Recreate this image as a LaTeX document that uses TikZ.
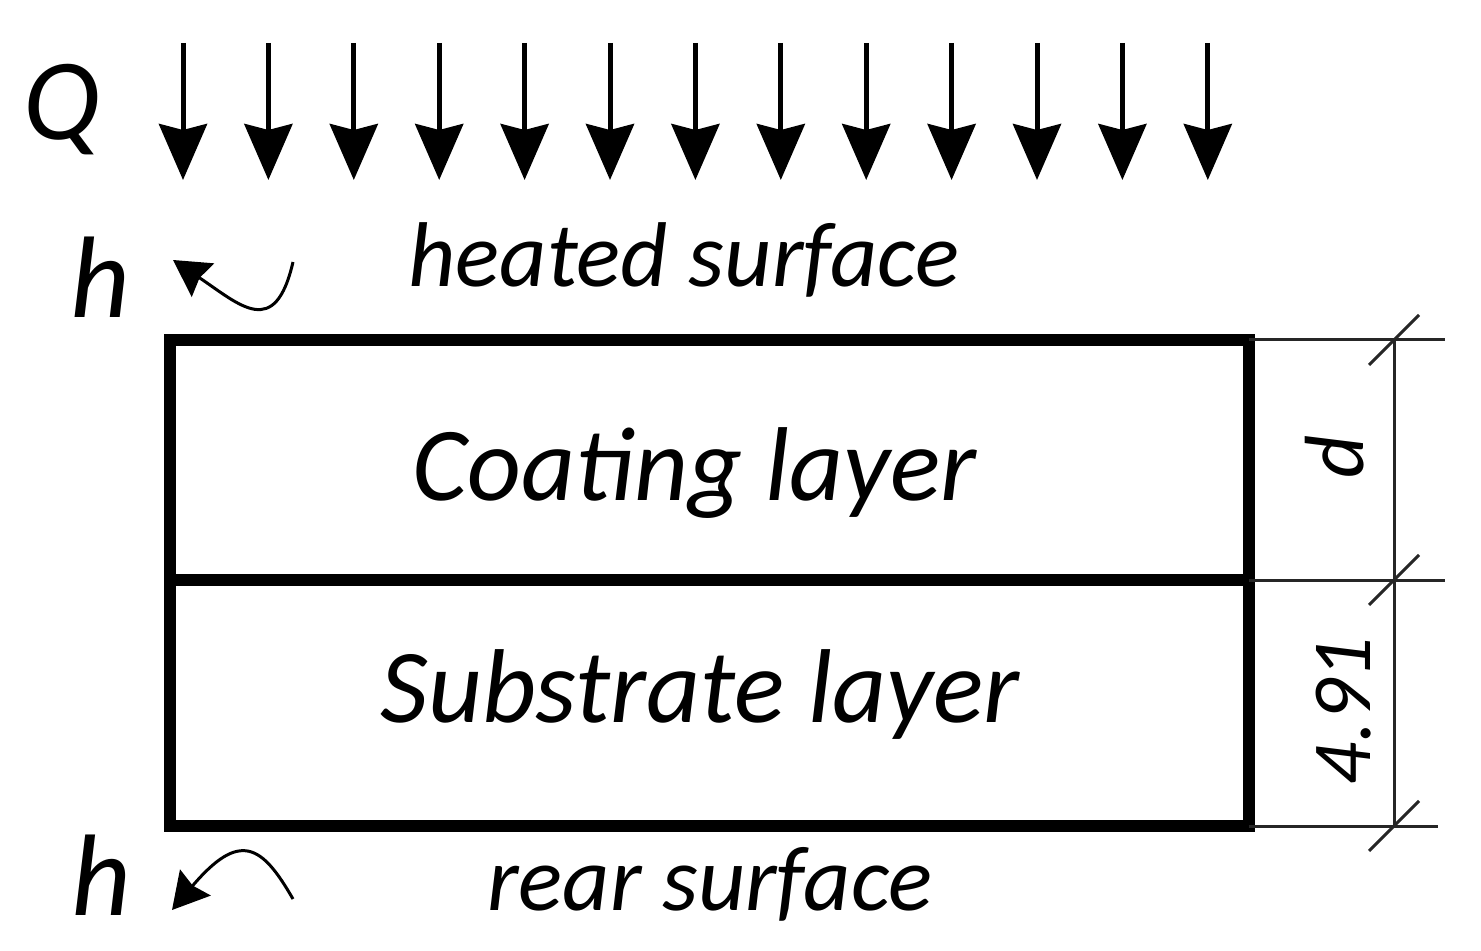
\documentclass[tikz,border=0pt]{standalone}
\usepackage{fontspec}
\setmainfont{Carlito}
\usetikzlibrary{arrows.meta}

\begin{document}
\begin{tikzpicture}[x=0.5pt,y=-0.5pt,
        layer/.style={draw=black,line width=6pt,minimum width=539.5pt,inner sep=0pt,outer sep=0pt},
        bigtext/.style={font=\itshape\fontsize{52.5}{60}\selectfont,inner sep=0pt,anchor=base},
        smalltext/.style={font=\itshape\fontsize{46}{54}\selectfont,inner sep=0pt,anchor=base},
        dimtext/.style={font=\itshape\fontsize{42}{50}\selectfont,inner sep=0pt,anchor=base,rotate=90},
        symtext/.style={font=\itshape\fontsize{58}{68}\selectfont,inner sep=0pt,anchor=base},
        qarrow/.style={line width=2.5pt,-{Stealth[length=28pt,width=24pt,inset=3pt]}},
        harrow/.style={line width=1.5pt,-{Stealth[length=18pt,width=20pt,inset=2pt]}},
        dimline/.style={line width=1.5pt,black!85}]
        \useasboundingbox (0,0) rectangle (1481,951);
        \node[symtext] (Q) at (62,140) {Q};
        \foreach \i in {0,...,12} {
            \coordinate (qs\i) at (183+85.4*\i,43);
            \coordinate (qe\i) at (183+85.4*\i,180);
            \draw[qarrow] (qs\i) -- (qe\i);
        }
        \node[symtext] (htop) at (100,318) {h};
        \node[smalltext] (heated) at (684,287) {heated surface};
        \coordinate (hts) at (293,262);
        \coordinate (hte) at (173,260);
        \draw[harrow] (hts) .. controls (275,340) and (240,305) .. (hte);
        \node[layer,minimum height=120pt] (coat) at (709.5,460) {};
        \node[layer,minimum height=123pt] (sub) at (709.5,703) {};
        \node[bigtext] (coattext) at (695,500) {Coating layer};
        \node[bigtext] (subtext) at (700,722) {Substrate layer};
        \node[symtext] (hbot) at (101,915) {h};
        \node[smalltext] (rear) at (710,910) {rear surface};
        \coordinate (hbs) at (293,899);
        \coordinate (hbe) at (172,910);
        \draw[harrow] (hbs) .. controls (262,845) and (240,830) .. (hbe);
        \coordinate (ext1) at (1445,340);
        \coordinate (ext2) at (1445,580);
        \coordinate (ext3) at (1438,826);
        \coordinate (dim1) at (1394,340);
        \coordinate (dim2) at (1394,580);
        \coordinate (dim3) at (1394,826);
        \draw[dimline] (coat.north east) -- (ext1);
        \draw[dimline] (coat.south east) -- (ext2);
        \draw[dimline] (sub.south east) -- (ext3);
        \draw[dimline] (dim1) -- (dim3);
        \draw[dimline] ([shift={(-25,25)}]dim1) -- ([shift={(25,-25)}]dim1);
        \draw[dimline] ([shift={(-25,25)}]dim2) -- ([shift={(25,-25)}]dim2);
        \draw[dimline] ([shift={(-25,25)}]dim3) -- ([shift={(25,-25)}]dim3);
        \node[dimtext] (dlabel) at (1363,457) {d};
        \node[dimtext] (thick) at (1370,711) {4.91};
    \end{tikzpicture}
\end{document}
